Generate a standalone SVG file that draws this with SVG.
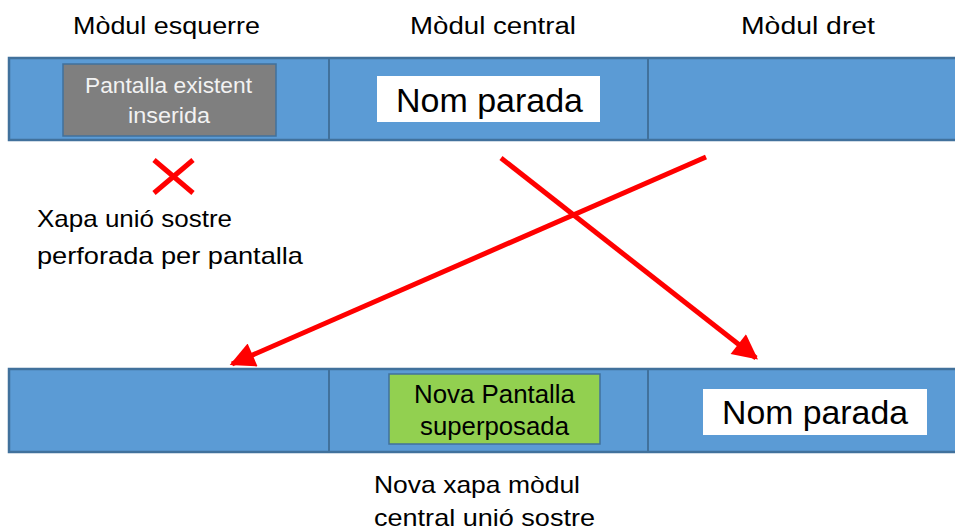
<svg xmlns="http://www.w3.org/2000/svg" width="955" height="530" viewBox="0 0 955 530">
<defs>
<style>
.bar{fill:#5B9BD5;stroke:#41719C;stroke-width:2.5}
.div{stroke:#41719C;stroke-width:2}
.t{font-family:"Liberation Sans",Arial,sans-serif;fill:#000}
.red{stroke:#FF0000;stroke-width:5;fill:none}
</style>
<marker id="ah" viewBox="0 0 10 10" refX="9" refY="5" markerWidth="5.5" markerHeight="5" markerUnits="strokeWidth" orient="auto">
<path d="M0,0 L10,5 L0,10 z" fill="#FF0000"/>
</marker>
</defs>
<rect width="955" height="530" fill="#fff"/>
<g id="headers">
<text class="t" x="73" y="34" font-size="23" textLength="187" lengthAdjust="spacingAndGlyphs">Mòdul esquerre</text>
<text class="t" x="410" y="34" font-size="23" textLength="166" lengthAdjust="spacingAndGlyphs">Mòdul central</text>
<text class="t" x="741" y="34" font-size="23" textLength="134" lengthAdjust="spacingAndGlyphs">Mòdul dret</text>
</g>
<g id="top-bar">
<rect class="bar" x="9" y="58" width="950" height="82"/>
<line class="div" x1="329" y1="58" x2="329" y2="140"/>
<line class="div" x1="648" y1="58" x2="648" y2="140"/>
</g>
<g id="gray-screen">
<rect x="63" y="64" width="213" height="72" fill="#7F7F7F" stroke="#41719C" stroke-width="1.5"/>
<text class="t" x="85" y="93" font-size="22" textLength="167" lengthAdjust="spacingAndGlyphs" style="fill:#F2F2F2">Pantalla existent</text>
<text class="t" x="128" y="123" font-size="22" textLength="82" lengthAdjust="spacingAndGlyphs" style="fill:#F2F2F2">inserida</text>
</g>
<g id="top-name">
<rect x="377" y="76" width="223" height="46" fill="#fff"/>
<text class="t" x="396" y="112" font-size="34" textLength="187" lengthAdjust="spacingAndGlyphs">Nom parada</text>
</g>
<g id="bottom-bar">
<rect class="bar" x="9" y="369" width="950" height="83"/>
<line class="div" x1="329" y1="369" x2="329" y2="452"/>
<line class="div" x1="648" y1="369" x2="648" y2="452"/>
</g>
<g id="green-screen">
<rect x="389" y="374" width="211" height="70" fill="#92D050" stroke="#41719C" stroke-width="1.5"/>
<text class="t" x="414" y="403" font-size="25" textLength="161" lengthAdjust="spacingAndGlyphs">Nova Pantalla</text>
<text class="t" x="420" y="435" font-size="25" textLength="149" lengthAdjust="spacingAndGlyphs">superposada</text>
</g>
<g id="bottom-name">
<rect x="703" y="389" width="224" height="46" fill="#fff"/>
<text class="t" x="722" y="424" font-size="34" textLength="186" lengthAdjust="spacingAndGlyphs">Nom parada</text>
</g>
<g id="cross-mark">
<line class="red" x1="154" y1="160" x2="193" y2="193"/>
<line class="red" x1="193" y1="160" x2="154" y2="193"/>
</g>
<g id="left-caption">
<text class="t" x="37" y="227" font-size="24" textLength="195" lengthAdjust="spacingAndGlyphs">Xapa unió sostre</text>
<text class="t" x="37" y="264" font-size="24" textLength="266" lengthAdjust="spacingAndGlyphs">perforada per pantalla</text>
</g>
<g id="bottom-caption">
<text class="t" x="374" y="493" font-size="24" textLength="206" lengthAdjust="spacingAndGlyphs">Nova xapa mòdul</text>
<text class="t" x="374" y="526" font-size="24" textLength="221" lengthAdjust="spacingAndGlyphs">central unió sostre</text>
</g>
<g id="connectors">
<line class="red" x1="706" y1="157" x2="232" y2="364" marker-end="url(#ah)"/>
<line class="red" x1="501" y1="158" x2="756" y2="358" marker-end="url(#ah)"/>
</g>
</svg>
